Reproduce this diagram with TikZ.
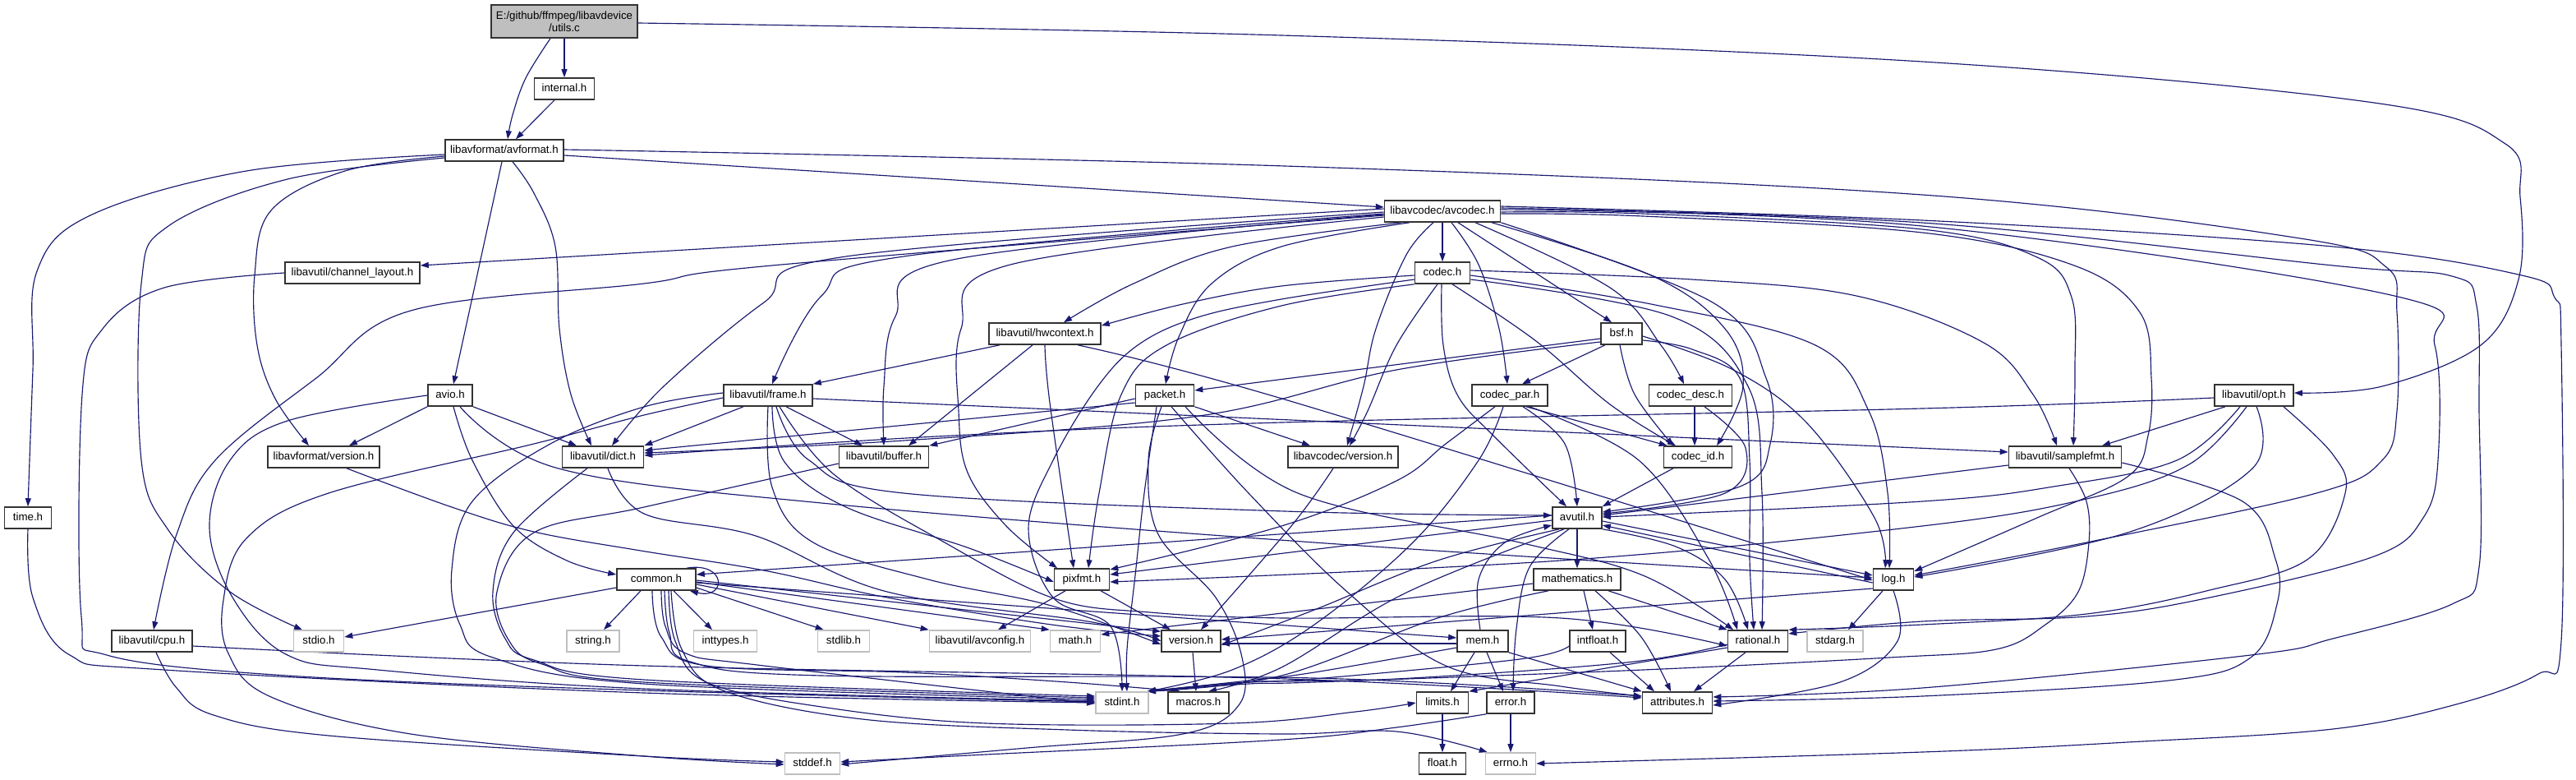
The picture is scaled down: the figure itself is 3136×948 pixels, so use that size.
\documentclass[tikz,border=0pt]{standalone}
\usepackage{fontspec}
\setmainfont{Liberation Sans}
\usetikzlibrary{arrows.meta}
\definecolor{edgeblue}{HTML}{191970}
\definecolor{gfill}{HTML}{BFBFBF}
\definecolor{gborder}{HTML}{BFBFBF}
\definecolor{bborder}{HTML}{333333}
\pgfdeclarelayer{edgelayer}
\pgfsetlayers{edgelayer,main}
\newcommand\hn[6]{\node[#1, minimum width=#5pt] (#2) at (#3,#4) {#6};}
\newcommand\pe[1]{\draw[conn] plot[smooth,tension=0.6] coordinates {#1};}
\begin{document}
\begin{tikzpicture}[x=1pt,y=-1pt,
  conn/.style={draw=edgeblue, line width=1.15pt, line join=round, -{Triangle[length=10pt,width=7pt]}},
  nbase/.style={draw=bborder, fill=white, line width=1.6pt, inner xsep=2pt, inner ysep=0pt, font=\fontsize{13.3}{15}\selectfont},
  nb/.style={nbase, minimum height=26pt, text height=9.8pt, text depth=3pt},
  ng/.style={nb, draw=gborder}]
\begin{pgfonlayer}{edgelayer}
\fill[white] (0,0) rectangle (3136,948);
\end{pgfonlayer}
\useasboundingbox (0,0) rectangle (3136,948);

\node[nbase, fill=gfill, minimum width=178pt, minimum height=40pt, align=center] (utils) at (687,26) {E:/github/ffmpeg/libavdevice\\/utils.c};
\hn{nb}{internal}{687}{108}{73}{internal.h}
\hn{nb}{avformat}{614}{183}{144}{libavformat/avformat.h}
\hn{nb}{chlayout}{429}{332}{164}{libavutil/channel\_layout.h}
\hn{nb}{avcodec}{1756}{257}{141}{libavcodec/avcodec.h}
\hn{nb}{codec}{1756}{332}{67}{codec.h}
\hn{nb}{hwctx}{1272}{406}{136}{libavutil/hwcontext.h}
\hn{nb}{bsf}{1974}{406}{50}{bsf.h}
\hn{nb}{avio}{548}{481}{54}{avio.h}
\hn{nb}{frame}{935}{481}{108}{libavutil/frame.h}
\hn{nb}{packet}{1418}{481}{71}{packet.h}
\hn{nb}{codecpar}{1838}{481}{92}{codec\_par.h}
\hn{nb}{codecdesc}{2058}{481}{101}{codec\_desc.h}
\hn{nb}{opt}{2744}{481}{96}{libavutil/opt.h}
\hn{nb}{lavfver}{394}{556}{136}{libavformat/version.h}
\hn{nb}{dict}{734}{556}{99}{libavutil/dict.h}
\hn{nb}{buffer}{1076}{556}{109}{libavutil/buffer.h}
\hn{nb}{lavcver}{1635}{556}{134}{libavcodec/version.h}
\hn{nb}{codecid}{2067}{556}{83}{codec\_id.h}
\hn{nb}{samplefmt}{2514}{556}{137}{libavutil/samplefmt.h}
\hn{nb}{timeh}{34}{630}{57}{time.h}
\hn{nb}{avutil}{1920}{630}{60}{avutil.h}
\hn{nb}{common}{799}{705}{96}{common.h}
\hn{nb}{pixfmt}{1317}{705}{67}{pixfmt.h}
\hn{nb}{mathem}{1920}{705}{106}{mathematics.h}
\hn{nb}{logh}{2305}{705}{49}{log.h}
\hn{nb}{cpu}{185}{780}{98}{libavutil/cpu.h}
\hn{ng}{stdio}{388}{780}{61}{stdio.h}
\hn{ng}{stringh}{722}{780}{64}{string.h}
\hn{ng}{inttypes}{883}{780}{77}{inttypes.h}
\hn{ng}{stdlib}{1027}{780}{63}{stdlib.h}
\hn{ng}{avconfig}{1193}{780}{123}{libavutil/avconfig.h}
\hn{ng}{mathh}{1309}{780}{61}{math.h}
\hn{nb}{version}{1450}{780}{72}{version.h}
\hn{nb}{mem}{1805}{780}{62}{mem.h}
\hn{nb}{intfloat}{1945}{780}{68}{intfloat.h}
\hn{nb}{rational}{2140}{780}{73}{rational.h}
\hn{ng}{stdarg}{2234}{780}{68}{stdarg.h}
\hn{ng}{stdint}{1366}{855}{64}{stdint.h}
\hn{nb}{macros}{1459}{855}{74}{macros.h}
\hn{nb}{limits}{1756}{855}{63}{limits.h}
\hn{nb}{errorh}{1839}{855}{58}{error.h}
\hn{nb}{attributes}{2042}{855}{85}{attributes.h}
\hn{ng}{stddef}{989}{929}{67}{stddef.h}
\hn{nb}{floath}{1756}{929}{57}{float.h}
\hn{ng}{errno}{1839}{929}{61}{errno.h}

\begin{pgfonlayer}{edgelayer}
% utils.c
\draw[conn] (utils.south) -- (internal.north);
\pe{([xshift=-17pt]utils.south) (640,95) (624,140) ([xshift=4pt]avformat.north)}
\draw[conn] ([xshift=-12pt]internal.south) -- ([xshift=14pt]avformat.north);
\pe{([yshift=-2pt]utils.east) (1560,43) (2340,75) (2890,125) (3050,175) (3068,240) (3066,340) (3020,420) (2900,470) ([yshift=3pt]opt.east)}

% avformat.h
\draw[conn] ([yshift=-6pt]avformat.east) -- ([yshift=5pt]avcodec.west);
\pe{([yshift=1pt]avformat.east) (1564,202) (2340,237) (2800,290) (2905,325) (2918,380) (2918,500) (2900,560) (2820,600) (2540,660) ([yshift=5pt]logh.east)}
\pe{([yshift=-5pt]avformat.west) (300,208) (110,262) (45,330) (40,450) (timeh.north)}
\pe{([yshift=-9pt]avformat.west) (350,218) (205,275) (172,345) (172,560) (205,645) (280,720) ([xshift=-20pt]stdio.north)}
\pe{([yshift=-7pt]avformat.west) (420,208) (330,256) (310,335) (313,420) (335,485) ([xshift=-18pt]lavfver.north)}
\draw[conn] ([xshift=-3pt]avformat.south) -- ([xshift=4pt]avio.north);
\pe{([xshift=10pt]avformat.south) (650,235) (676,300) (681,400) (695,480) ([xshift=-14pt]dict.north)}

% avio.h
\draw[conn] (avio.south west) -- ([xshift=31pt]lavfver.north);
\draw[conn] (avio.south east) -- ([xshift=-32pt]dict.north);
\pe{([xshift=4pt]avio.south) (575,560) (625,640) (690,682) ([yshift=6pt]common.west)}
\pe{([xshift=12pt]avio.south) (680,570) (1000,612) (1600,660) ([yshift=2pt]logh.west)}
\pe{(avio.west) (350,512) (280,560) (255,643) (285,730) (350,797) (460,815) (784,838) ([yshift=2pt]stdint.west)}

% channel_layout, time, cpu
\pe{(chlayout.west) (200,350) (125,400) (100,480) (99,750) (130,797) (350,822) (784,840) ([yshift=1pt]stdint.west)}
\pe{(timeh.south) (40,727) (85,797) (200,815) (784,843) (stdint.west)}
\pe{([yshift=-6pt]cpu.east) (784,810) (1564,826) ([yshift=6pt]attributes.west)}
\pe{([xshift=5pt]cpu.south) (215,837) (260,870) (400,895) (784,920) ([yshift=2pt]stddef.west)}

% avcodec.h
\pe{([yshift=-5pt]avcodec.west) (940,323) (784,345) (500,378) (385,460) (262,560) (215,650) ([xshift=2pt]cpu.north)}
\draw[conn] ([yshift=3pt]avcodec.west) -- ([yshift=9pt]chlayout.east);
\pe{([yshift=-1pt]avcodec.west) (1030,312) (930,368) (808,470) ([xshift=11pt]dict.north)}
\pe{([yshift=-3pt]avcodec.west) (1100,312) (1000,360) ([xshift=5pt]frame.north)}
\pe{([yshift=-4pt]avcodec.west) (1160,316) (1090,385) (1076,470) (buffer.north)}
\pe{([yshift=-7pt]avcodec.west) (1230,322) (1170,400) (1167,500) (1178,575) (1225,640) ([xshift=-30pt]pixfmt.north)}
\pe{([xshift=-50pt]avcodec.south) (1500,300) (1380,345) ([xshift=23pt]hwctx.north)}
\pe{([xshift=-40pt]avcodec.south) (1560,300) (1475,345) (1435,410) ([xshift=1pt]packet.north)}
\draw[conn] (avcodec.south) -- (codec.north);
\pe{([xshift=-11pt]avcodec.south) (1712,310) (1675,400) (1660,470) ([xshift=5pt]lavcver.north)}
\pe{([xshift=11pt]avcodec.south) (1800,322) (1825,400) ([xshift=-3pt]codecpar.north)}
\draw[conn] ([xshift=19pt]avcodec.south) -- ([xshift=-12pt]bsf.north);
\pe{([xshift=40pt]avcodec.south) (1960,350) (2022,420) ([xshift=-8pt]codecdesc.north)}
\pe{([xshift=60pt]avcodec.south) (2010,335) (2100,400) (2122,470) ([xshift=23pt]codecid.north)}
\pe{(avcodec.south east) (2085,368) (2150,460) (2155,540) (2118,592) ([yshift=7pt]avutil.east)}
\pe{([yshift=-3pt]avcodec.east) (2000,263) (2340,283) (2525,323) (2605,380) (2619,460) (2615,530) (2590,580) (2480,630) ([yshift=10pt]logh.east)}
\pe{([yshift=-1pt]avcodec.east) (2000,260) (2340,279) (2480,313) (2522,362) (2526,450) ([xshift=10pt]samplefmt.north)}
\pe{([yshift=2pt]avcodec.east) (2340,275) (2915,360) (2964,420) (2968,560) (2950,630) (2890,677) (2690,727) (2540,750) (2340,756) ([yshift=9pt]rational.east)}
\pe{([yshift=4pt]avcodec.east) (2340,271) (2840,323) (2985,336) (3015,372) (3018,500) (3018,690) (2985,735) (2840,777) (2740,797) (2340,837) ([yshift=7pt]attributes.east)}
\pe{([yshift=6pt]avcodec.east) (2340,268) (2840,300) (3070,335) (3110,362) (3118,420) (3118,780) (3090,820) (2990,857) (2840,887) (2590,903) (2340,915) (errno.east)}

% codec.h
\pe{([yshift=-3pt]codec.west) (1560,348) (1440,370) ([yshift=-4pt]hwctx.north east)}
\pe{([yshift=-8pt]codec.west) (1560,364) (1455,387) (1385,420) (1335,472) (1282,560) (1252,643) (1282,727) (1352,762) (stdint.north)}
\pe{(codec.south west) (1560,372) (1420,420) (1365,480) (1338,600) ([xshift=8pt]pixfmt.north)}
\pe{([xshift=-1pt]codec.south) (1757,420) (1775,482) (1820,532) ([xshift=-13pt]avutil.north)}
\pe{([xshift=12pt]codec.south) (1870,415) (1960,492) ([xshift=-27pt]codecid.north)}
\pe{([yshift=-3pt]codec.east) (2010,370) (2210,420) (2275,500) (2298,600) ([xshift=-5pt]logh.north)}
\pe{([yshift=-8pt]codec.east) (2035,385) (2128,470) (2145,600) ([xshift=5pt]rational.north)}
\pe{([yshift=3pt]codec.east) (2060,340) (2260,360) (2415,417) (2475,480) ([xshift=-10pt]samplefmt.north)}
\pe{([xshift=-6pt]codec.south) (1700,420) (1665,500) ([xshift=8pt]lavcver.north)}

% bsf.h
\draw[conn] ([xshift=-20pt]bsf.south) -- ([xshift=15pt]codecpar.north);
\draw[conn] ([yshift=-6pt]bsf.west) -- ([yshift=6pt]packet.east);
\pe{([yshift=-10pt]bsf.west) (1700,450) (1460,506) (1100,536) ([yshift=5pt]dict.east)}
\pe{([yshift=-3pt]bsf.east) (2110,450) (2200,515) (2282,630) ([xshift=-10pt]logh.north)}
\pe{([yshift=-8pt]bsf.east) (2060,425) (2118,460) (2130,560) (2130,680) ([xshift=-5pt]rational.north)}
\pe{([xshift=-2pt]bsf.south) (1990,480) ([xshift=-30pt]codecid.north)}

% codec_par.h
\draw[conn] ([xshift=20pt]codecpar.south) -- ([xshift=5pt]codecid.north west);
\pe{([xshift=16pt]codecpar.south) (1905,540) (avutil.north)}
\pe{([xshift=24pt]codecpar.south) (1995,560) (2080,680) ([xshift=-25pt]rational.north)}
\pe{([xshift=-18pt]codecpar.south) (1760,540) (1700,585) (1560,640) ([yshift=12pt]pixfmt.east)}
\pe{([xshift=-8pt]codecpar.south) (1800,560) (1720,660) (1600,760) (1500,815) ([xshift=-2pt]stdint.north east)}

% codec_desc.h, codec_id.h
\draw[conn] ([xshift=5pt]codecdesc.south) -- ([xshift=-4pt]codecid.north);
\pe{([xshift=17pt]codecdesc.south) (2125,545) (2100,600) ([yshift=5pt]avutil.east)}
\draw[conn] ([xshift=-30pt]codecid.south) -- (avutil.north east);

% packet.h
\draw[conn] ([yshift=-4pt]packet.west) -- (buffer.north east);
\draw[conn] ([yshift=-9pt]packet.west) -- ([yshift=8pt]dict.east);
\draw[conn] (packet.south east) -- ([xshift=-40pt]lavcver.north);
\pe{([xshift=-10pt]packet.south) (1393,600) (1382,700) (1372,790) ([xshift=6pt]stdint.north)}
\pe{([xshift=-4pt]packet.south) (1398,560) (1410,650) (1480,727) (1512,800) (1508,858) (1440,893) (1250,910) ([yshift=-1pt]stddef.east)}
\pe{([xshift=8pt]packet.south) (1520,600) (1640,720) (1760,810) (1900,835) ([yshift=8pt]attributes.west)}
\pe{([xshift=25pt]packet.south) (1580,600) (1850,660) (2000,700) ([xshift=-30pt]rational.north)}

% libavcodec/version.h
\pe{([xshift=-12pt]lavcver.south) (1572,640) ([xshift=12pt]version.north)}

% hwcontext.h
\draw[conn] ([xshift=-55pt]hwctx.south) -- (frame.north east);
\draw[conn] ([xshift=-15pt]hwctx.south) -- ([xshift=30pt]buffer.north);
\pe{(hwctx.south) (1278,490) ([xshift=-10pt]pixfmt.north)}
\pe{([xshift=40pt]hwctx.south) (1564,486) ([yshift=-1pt]logh.west)}

% frame.h
\draw[conn] ([xshift=-30pt]frame.south) -- (dict.north east);
\draw[conn] ([xshift=22pt]frame.south) -- ([xshift=-26pt]buffer.north);
\draw[conn] ([yshift=-4pt]frame.east) -- ([yshift=6pt]samplefmt.west);
\pe{([xshift=10pt]frame.south) (985,560) (1100,600) (1564,622) ([yshift=3pt]avutil.west)}
\pe{([xshift=5pt]frame.south) (955,562) (1030,617) (1180,667) ([yshift=-3pt]pixfmt.west)}
\pe{(frame.south) (940,593) (990,660) (1130,705) (1280,737) ([yshift=-4pt]version.west)}
\pe{([xshift=14pt]frame.south) (1015,577) (1150,660) (1283,728) (1400,745) (1564,752) (1900,752) ([yshift=-6pt]rational.west)}
\pe{([yshift=3pt]frame.west) (784,495) (670,540) (575,610) (550,693) (560,760) (600,800) (784,832) ([yshift=4pt]stdint.west)}
\pe{([yshift=-3pt]frame.west) (784,505) (650,540) (400,600) (300,655) (272,730) (278,795) (330,848) (500,893) (784,920) ([yshift=-1pt]stddef.west)}

% buffer.h, libavformat/version.h, dict.h
\pe{([yshift=-8pt]buffer.west) (784,617) (650,648) (605,720) (620,780) (660,808) (784,830) ([yshift=6pt]stdint.west)}
\pe{([xshift=28pt]lavfver.south) (550,617) (650,647) (780,670) (930,694) (1080,727) (1280,760) ([yshift=6pt]version.west)}
\pe{([xshift=-19pt]dict.south) (625,648) (600,720) (615,777) (650,803) (784,827) ([yshift=8pt]stdint.west)}
\pe{([xshift=6pt]dict.south) (784,625) (920,652) (1080,720) (1330,757) (version.west)}

% common.h
\draw[conn] ([yshift=-10pt]common.west) -- ([yshift=5pt]stdio.east);
\draw[conn] ([xshift=-19pt]common.south) -- ([xshift=13pt]stringh.north);
\draw[conn] ([xshift=21pt]common.south) -- ([xshift=-16pt]inttypes.north);
\draw[conn] ([yshift=-10pt]common.east) -- ([xshift=8pt]stdlib.north west);
\draw[conn] ([yshift=-6pt]common.east) -- (avconfig.north west);
\draw[conn] ([yshift=-3pt]common.east) -- (mathh.north west);
\draw[conn] ([yshift=-1pt]common.east) -- ([yshift=-2pt]version.north west);
\draw[conn] ([yshift=-4pt]common.east) -- ([yshift=4pt]mem.west);
\pe{([xshift=6pt]common.south) (810,762) (835,795) (930,810) ([yshift=-1pt]stdint.west)}
\pe{([xshift=-5pt]common.south) (805,775) (860,810) (1100,818) (1300,830) ([xshift=-22pt]macros.north)}
\pe{([xshift=10pt]common.south) (815,770) (840,805) (1000,822) (1600,825) ([yshift=8pt]attributes.west)}
\pe{([xshift=15pt]common.south) (822,780) (860,830) (1000,860) (1200,880) (1500,880) (1650,866) (limits.west)}
\pe{([xshift=18pt]common.south) (830,790) (880,840) (1050,875) (1300,888) (1560,893) (1700,890) ([xshift=3pt]errno.north west)}
\draw[conn] ([xshift=-12pt]common.north east) .. controls (885,683) and (885,730) .. ([xshift=-8pt]common.south east);

% avutil.h
\draw[conn] (avutil.south) -- (mathem.north);
\draw[conn] ([yshift=3pt]avutil.west) -- ([yshift=6pt]common.east);
\draw[conn] ([yshift=-3pt]avutil.west) -- ([yshift=6pt]pixfmt.east);
\pe{([xshift=-22pt]avutil.south) (1750,682) (1600,742) ([yshift=-5pt]version.east)}
\pe{([xshift=-16pt]avutil.south) (1710,722) (1560,812) ([xshift=12pt]macros.north)}
\pe{([xshift=-10pt]avutil.south) (1862,690) (1846,765) ([xshift=3pt]errorh.north)}
\pe{(avutil.south east) (2040,665) (2100,705) ([xshift=-12pt]rational.north)}
\draw[conn] ([yshift=-4pt]avutil.east) -- ([yshift=5pt]logh.west);
\draw[conn] ([yshift=-4pt]logh.west) -- ([yshift=-9pt]avutil.east);

% mathematics.h
\draw[conn] ([xshift=8pt]mathem.south) -- ([xshift=-6pt]intfloat.north);
\draw[conn] ([xshift=38pt]mathem.south) -- (rational.north west);
\pe{([xshift=22pt]mathem.south) (1998,775) ([xshift=-8pt]attributes.north)}
\draw[conn] ([yshift=-5pt]mathem.west) -- ([yshift=8pt]mathh.east);
\pe{([xshift=-35pt]mathem.south) (1750,752) (1560,822) ([xshift=-2pt]stdint.north east)}

% rational.h
\draw[conn] ([xshift=-15pt]rational.south) -- ([xshift=20pt]attributes.north);
\draw[conn] ([yshift=-8pt]rational.west) -- (limits.north east);
\pe{([yshift=-4pt]rational.west) (1980,806) (1700,826) (1520,830) ([xshift=-2pt]stdint.north east)}

% log.h
\draw[conn] ([xshift=-13pt]logh.south) -- ([xshift=16pt]stdarg.north);
\pe{(logh.south) (2310,780) (2240,830) ([yshift=-3pt]attributes.east)}
\draw[conn] ([yshift=-11pt]logh.west) -- ([yshift=2pt]version.east);

% mem.h
\pe{([xshift=-3pt]mem.north) (1800,705) (1832,660) ([yshift=-9pt]avutil.west)}
\draw[conn] ([xshift=-10pt]mem.south) -- ([xshift=10pt]limits.north);
\draw[conn] ([xshift=5pt]mem.south) -- ([xshift=-9pt]errorh.north);
\draw[conn] (mem.south east) -- (attributes.north west);
\pe{([yshift=-8pt]mem.west) (1600,818) (1520,828) ([xshift=-2pt]stdint.north east)}
\draw[conn] ([yshift=-3pt]mem.west) -- ([yshift=-3pt]version.east);

% intfloat.h, error.h, limits.h, version.h, pixfmt.h
\draw[conn] ([xshift=15pt]intfloat.south) -- ([xshift=-28pt]attributes.north);
\pe{([yshift=-6pt]intfloat.west) (1850,802) (1600,826) (1520,830) ([xshift=-2pt]stdint.north east)}
\draw[conn] (errorh.south) -- (errno.north);
\pe{(errorh.south west) (1700,885) (1560,900) (1200,918) ([yshift=2pt]stddef.east)}
\draw[conn] (limits.south) -- (floath.north);
\draw[conn] ([xshift=2pt]version.south) -- ([xshift=-3pt]macros.north);
\draw[conn] ([xshift=-20pt]pixfmt.south) -- ([xshift=22pt]avconfig.north);
\draw[conn] ([xshift=23pt]pixfmt.south) -- ([xshift=-25pt]version.north);

% samplefmt.h
\draw[conn] ([yshift=-10pt]samplefmt.west) -- ([yshift=3pt]avutil.east);
\pe{([xshift=5pt]samplefmt.south) (2540,610) (2543,660) (2530,720) (2490,760) (2430,790) (2300,800) (2000,815) (1600,830) (1520,832) ([xshift=-2pt]stdint.north east)}
\pe{([yshift=-7pt]samplefmt.east) (2730,610) (2770,680) (2772,735) (2740,800) (2640,828) (2340,847) ([yshift=2pt]attributes.east)}

% opt.h
\draw[conn] ([xshift=-35pt]opt.south) -- ([xshift=45pt]samplefmt.north);
\pe{([yshift=-3pt]opt.west) (2340,497) (1560,514) (1140,531) ([yshift=2pt]dict.east)}
\pe{([xshift=-17pt]opt.south) (2650,560) (2500,592) (2340,610) ([yshift=1pt]avutil.east)}
\pe{([xshift=-9pt]opt.south) (2665,565) (2540,607) (2340,640) (1900,682) ([yshift=-3pt]pixfmt.east)}
\pe{([xshift=3pt]opt.south) (2742,570) (2590,648) ([yshift=3pt]logh.east)}
\pe{([xshift=36pt]opt.south) (2840,553) (2855,600) (2810,680) (2690,718) (2540,747) (2340,760) (rational.north east)}
\end{pgfonlayer}
\end{tikzpicture}
\end{document}
